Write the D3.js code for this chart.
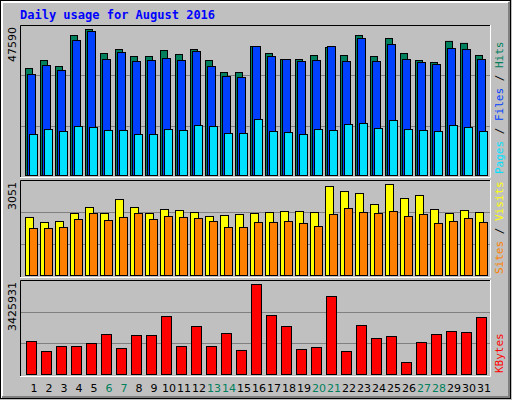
<!DOCTYPE html><html><head><script src="https://cdn.jsdelivr.net/npm/d3@7"></script>
<style>body{margin:0}svg{display:block}</style></head><body><svg id="c" width="512" height="400"></svg>
<script>
const days=d3.range(1,32);
const weekends=[6,7,13,14,20,21,27,28];
const hits=[34963,37553,35610,45646,47590,39818,41113,38848,38848,40790,39495,41113,37553,33668,33668,42084,39818,37877,37877,39171,41760,39171,45646,38848,44675,39818,37553,36906,43731,43084,39171];
const files=[33020,35934,34315,44028,46943,37877,40142,37230,37553,38200,37553,40466,35610,32373,32049,42084,38848,37877,37230,37553,42084,37230,44675,37230,42731,37877,36906,36258,41436,41113,37877];
const pages=[13595,15213,14566,16184,15860,14890,14890,13595,13595,15213,14890,16508,16184,13919,13919,18450,14566,14242,13595,15213,14890,16832,17155,15537,18126,15213,14890,14566,16508,15860,14566];
const visits=[1957,1791,1824,2089,2288,2089,2553,2288,2089,2222,2188,2122,1990,2023,2056,2089,2122,2155,2155,2122,2984,2818,2752,2387,3051,2586,2686,2222,2089,2188,2122];
const sites=[1592,1592,1625,1890,2089,1857,1957,2089,1890,1990,1957,1924,1824,1625,1625,1791,1791,1824,1758,1658,2056,2255,2122,2089,2155,1990,2056,1758,1824,1924,1791];
const kbytes=[1279784,903299,1091542,1091542,1204487,1543322,1016245,1505673,1505673,2220656,1091542,1844507,1091542,1581020,941951,3425931,2258305,1844507,978945,1054197,2973950,903299,1882156,1392729,1467982,489421,1242135,1543322,1656267,1618620,2182965];

const svg=d3.select("#c");
svg.append("rect").attr("width",512).attr("height",400).attr("fill","#c0c0c0");
svg.append("rect").attr("x",0.5).attr("y",0.5).attr("width",510).attr("height",398).attr("fill","none").attr("stroke","#000");
svg.append("path").attr("d","M2,398V2H509").attr("fill","none").attr("stroke","#fff").attr("stroke-width",2);
svg.append("path").attr("d","M2,397H509V2").attr("fill","none").attr("stroke","#808080").attr("stroke-width",2);
svg.append("text").attr("x",20).attr("y",19).attr("font-family","DejaVu Sans Mono").attr("font-weight","bold").attr("font-size",12).attr("fill","#0000ff").text("Daily usage for August 2016");

const x=d3.scaleLinear().domain([1,31]).range([25,475]);
const px=(g,data,dx,w,y,fill)=>g.selectAll(null).data(data).enter().append("rect")
 .attr("x",(d,i)=>x(days[i])+dx+0.5).attr("y",d=>y(d)+0.5).attr("width",w-1).attr("height",d=>y(0)-y(d)-1)
 .attr("fill",fill).attr("stroke","#000");

function panel(top,bot,max,ymax,label){
 const g=svg.append("g");
 g.append("rect").attr("x",20).attr("y",top).attr("width",470).attr("height",bot-top).attr("fill","#c0c0c0");
 g.append("path").attr("d",`M20.5,${bot}V${top+0.5}H490`).attr("fill","none").attr("stroke","#000");
 g.append("path").attr("d",`M20,${bot+0.5}H490.5V${top}`).attr("fill","none").attr("stroke","#fff");
 const y=d3.scaleLinear().domain([0,max]).range([bot-1,ymax]);
 const h=bot-1-top;
 [1/3,2/3].forEach(f=>g.append("line").attr("x1",21).attr("x2",490).attr("y1",Math.round(bot-1-h*f)+0.5).attr("y2",Math.round(bot-1-h*f)+0.5).attr("stroke","#808080"));
 g.append("text").attr("transform",`translate(16,${top+2}) rotate(-90)`).attr("text-anchor","end")
  .attr("font-family","DejaVu Sans").attr("font-size",11).attr("fill","#000").text(label);
 return {g,y};
}
function legend(yb,parts){
 const t=svg.append("text").attr("transform",`translate(503,${yb}) rotate(-90)`).attr("font-family","DejaVu Sans Mono").attr("font-size",11);
 parts.forEach(([s,c])=>t.append("tspan").attr("fill",c).text(s));
}
const p1=panel(25,177,47590,29,"47590");
px(p1.g,hits,0,8,p1.y,"#00805c");
px(p1.g,files,2,9,p1.y,"#0040ff");
px(p1.g,pages,4,9,p1.y,"#00e0ff");
legend(174,[["Pages","#00e0ff"],[" / ","#000"],["Files","#0040ff"],[" / ","#000"],["Hits","#00805c"]]);

const p2=panel(180,277,3051,184,"3051");
px(p2.g,visits,0,9,p2.y,"#ffff00");
px(p2.g,sites,4,9,p2.y,"#ff8000");
legend(274,[["Sites","#ff8000"],[" / ","#000"],["Visits","#ffff00"]]);

const p3=panel(280,376,3425931,284,"3425931");
px(p3.g,kbytes,1,11,p3.y,"#ff0000");
legend(373,[["KBytes","#ff0000"]]);

svg.append("g").selectAll("text").data(days).enter().append("text")
 .attr("x",d=>x(d)+9).attr("y",392).attr("text-anchor","middle").attr("font-family","DejaVu Sans").attr("font-size",11)
 .attr("fill",d=>weekends.includes(d)?"#00805c":"#000").text(d=>d);
</script></body></html>
